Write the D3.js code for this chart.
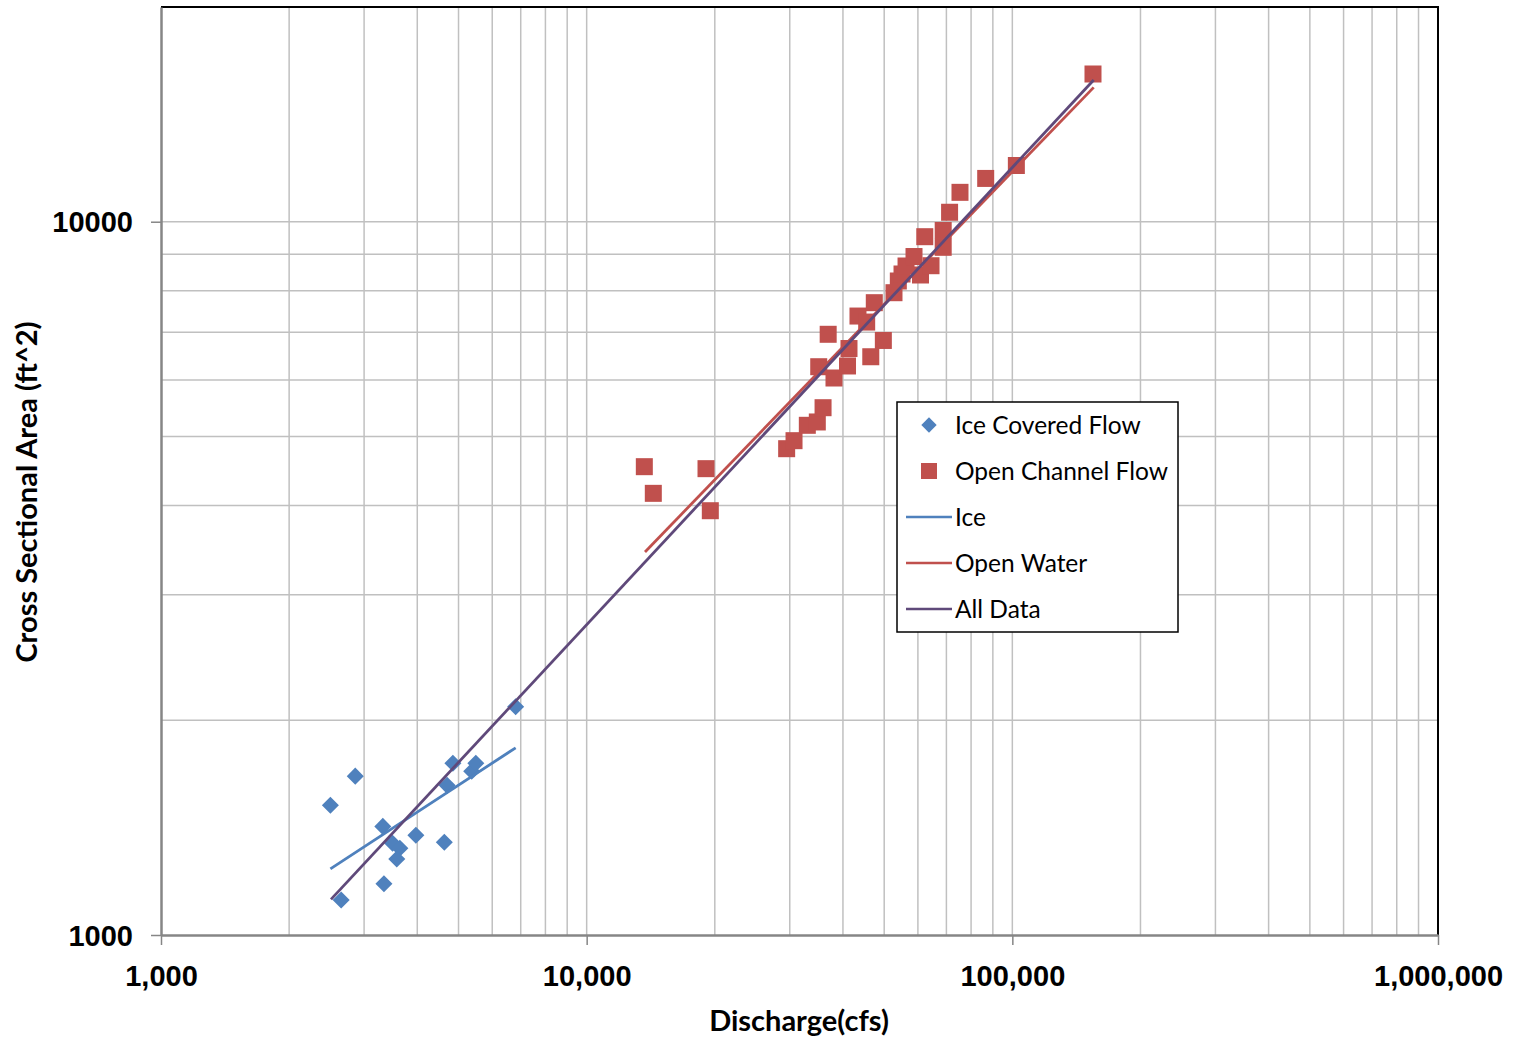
<!DOCTYPE html>
<html>
<head>
<meta charset="utf-8">
<script src="https://cdn.jsdelivr.net/npm/d3@7"></script>
<style>
    body { margin: 0; background: #fff; }
    svg { display: block; font-family: Lato, "Open Sans", sans-serif; }
</style>
</head>
<body>
<svg id="chart"></svg>
<script>
// Ice covered flow measurements (discharge cfs, area ft^2)
const iceDischarge = [2500, 2860, 3320, 3500, 3640, 3580, 3970, 4630, 3340, 2650, 4850, 4700, 5370, 5490, 6810];
const iceArea = [1520, 1670, 1420, 1345, 1323, 1278, 1380, 1349, 1180, 1120, 1741, 1621, 1696, 1741, 2090];

// Open channel flow measurements
const openDischarge = [13660, 14340, 19070, 19520, 29500, 30700, 32990, 34820, 35920, 38110, 35090, 41000,
    41330, 36930, 46500, 49770, 43390, 45480, 47390, 52720, 53970, 55060, 56270, 58750, 60850, 64410,
    62270, 68800, 68800, 71220, 75340, 86580, 102200, 154700];
const openArea = [4535, 4161, 4506, 3934, 4806, 4932, 5183, 5239, 5486, 6038, 6262, 6277,
    6641, 6953, 6467, 6816, 7375, 7233, 7700, 7952, 8258, 8447, 8668, 8937, 8420, 8676,
    9528, 9721, 9207, 10310, 10995, 11500, 11990, 16110];

// Power trend lines, end points
const iceFit = [[2500, 1238], [6810, 1830]];
const openFit = [[13710, 3443], [155300, 15430]];
const allFit = [[2508, 1122], [155300, 15800]];

const xTicks = [1000, 10000, 100000, 1000000];
const yTicks = [1000, 10000];
const legendItems = ["Ice Covered Flow", "Open Channel Flow", "Ice", "Open Water", "All Data"];

class ScatterVis {
    constructor(_config) {
        this.config = {
            parentElement: _config.parentElement,
            containerWidth: _config.containerWidth || 1514,
            containerHeight: _config.containerHeight || 1041,
            margin: _config.margin || { top: 7, right: 76, bottom: 106, left: 161 },
        };
        this.initVis();
    }

    initVis() {
        let vis = this;
        vis.width = vis.config.containerWidth - vis.config.margin.left - vis.config.margin.right;
        vis.height = vis.config.containerHeight - vis.config.margin.top - vis.config.margin.bottom;

        vis.svg = d3.select(vis.config.parentElement)
            .attr("width", vis.config.containerWidth)
            .attr("height", vis.config.containerHeight);

        vis.chart = vis.svg.append("g")
            .attr("transform", `translate(${vis.config.margin.left},${vis.config.margin.top})`);

        vis.x = d3.scaleLog().domain([1000, 1000000]).range([0, vis.width]);
        vis.y = d3.scaleLog().domain([1000, 20000]).range([vis.height, 0]);

        vis.colors = { ice: "#4F81BD", open: "#C0504D", all: "#5F497A" };
    }

    renderVis() {
        let vis = this;

        // minor + major gridlines (2..9 per decade)
        const xGrid = vis.x.ticks().filter(d => d > 1000 && d < 1000000);
        const yGrid = vis.y.ticks().filter(d => d > 1000 && d <= 10000);

        vis.chart.append("g").selectAll("line")
            .data(xGrid).join("line")
            .attr("x1", d => vis.x(d)).attr("x2", d => vis.x(d))
            .attr("y1", 0).attr("y2", vis.height)
            .attr("stroke", "#c0c0c0").attr("stroke-width", 1.5);

        vis.chart.append("g").selectAll("line")
            .data(yGrid).join("line")
            .attr("x1", 0).attr("x2", vis.width)
            .attr("y1", d => vis.y(d)).attr("y2", d => vis.y(d))
            .attr("stroke", "#c0c0c0").attr("stroke-width", 1.5);

        // plot area border top/right
        vis.chart.append("path")
            .attr("d", `M0,0H${vis.width}V${vis.height}`)
            .attr("fill", "none").attr("stroke", "#000").attr("stroke-width", 2);

        // axes
        const xAxis = d3.axisBottom(vis.x).tickValues(xTicks).tickSize(10).tickSizeOuter(0).tickPadding(20)
            .tickFormat(d3.format(","));
        const yAxis = d3.axisLeft(vis.y).tickValues(yTicks).tickSize(10).tickSizeOuter(0).tickPadding(18)
            .tickFormat(d3.format("d"));

        const gx = vis.chart.append("g").attr("transform", `translate(0,${vis.height})`).call(xAxis);
        const gy = vis.chart.append("g").call(yAxis);
        [gx, gy].forEach(g => {
            g.select(".domain").attr("stroke", "#868686").attr("stroke-width", 2.5);
            g.selectAll(".tick line").attr("stroke", "#868686").attr("stroke-width", 1.5);
            g.selectAll(".tick text").attr("fill", "#000")
                .style("font-size", "29px").style("font-weight", "bold");
        });
        gx.selectAll(".tick text").attr("dy", "0.72em");
        gy.selectAll(".tick text").attr("dy", "0.35em");

        // axis titles
        vis.svg.append("text")
            .attr("x", 799).attr("y", 1031)
            .attr("text-anchor", "middle")
            .style("font-size", "29px").style("font-weight", "bold")
            .text("Discharge(cfs)");

        vis.svg.append("text")
            .attr("transform", "translate(37,492) rotate(-90)")
            .attr("text-anchor", "middle")
            .style("font-size", "29px").style("font-weight", "bold")
            .text("Cross Sectional Area (ft^2)");

        // markers
        const diamond = d3.symbol().type(d3.symbolDiamond2).size(185);
        const iceData = iceDischarge.map((q, i) => ({ q, a: iceArea[i] }));
        const openData = openDischarge.map((q, i) => ({ q, a: openArea[i] }));

        vis.chart.append("g").selectAll("path")
            .data(iceData).join("path")
            .attr("d", diamond)
            .attr("transform", d => `translate(${vis.x(d.q)},${vis.y(d.a)})`)
            .attr("fill", vis.colors.ice);

        vis.chart.append("g").selectAll("rect")
            .data(openData).join("rect")
            .attr("x", d => vis.x(d.q) - 8.5).attr("y", d => vis.y(d.a) - 8.5)
            .attr("width", 17).attr("height", 17)
            .attr("fill", vis.colors.open);

        // trend lines
        const line = d3.line().x(d => vis.x(d[0])).y(d => vis.y(d[1]));
        [[iceFit, vis.colors.ice], [openFit, vis.colors.open], [allFit, vis.colors.all]].forEach(([pts, c]) => {
            vis.chart.append("path")
                .attr("d", line(pts))
                .attr("fill", "none").attr("stroke", c).attr("stroke-width", 2.8);
        });

        vis.renderLegend();
    }

    renderLegend() {
        let vis = this;
        const lg = vis.svg.append("g").attr("transform", "translate(897,402)");
        lg.append("rect")
            .attr("width", 281).attr("height", 230)
            .attr("fill", "#fff").attr("stroke", "#000").attr("stroke-width", 1.5);

        const rowColor = [vis.colors.ice, vis.colors.open, vis.colors.ice, vis.colors.open, vis.colors.all];
        const items = lg.selectAll("g.item")
            .data(legendItems).join("g")
            .attr("class", "item")
            .attr("transform", (d, i) => `translate(0,${23 + i * 46})`);

        items.each(function (d, i) {
            const g = d3.select(this);
            if (i === 0) {
                g.append("path")
                    .attr("d", d3.symbol().type(d3.symbolDiamond2).size(150)())
                    .attr("transform", "translate(32,0)")
                    .attr("fill", rowColor[i]);
            } else if (i === 1) {
                g.append("rect")
                    .attr("x", 24).attr("y", -8).attr("width", 16).attr("height", 16)
                    .attr("fill", rowColor[i]);
            } else {
                g.append("line")
                    .attr("x1", 9).attr("x2", 55)
                    .attr("stroke", rowColor[i]).attr("stroke-width", 2.5);
            }
            g.append("text")
                .attr("x", 58).attr("dy", "0.35em")
                .style("font-size", "24.5px")
                .text(d);
        });
    }
}

const vis = new ScatterVis({ parentElement: "#chart" });
vis.renderVis();
</script>
</body>
</html>
